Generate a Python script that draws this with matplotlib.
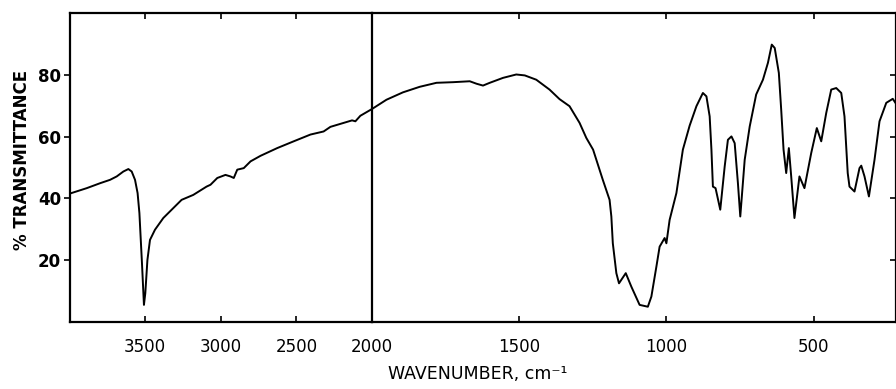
import matplotlib.pyplot as plt

# IR spectrum (scale changes at 2000 cm-1)
wavenumber = [4000, 3886, 3798, 3732, 3688, 3644, 3611, 3589, 3567, 3550,
              3538, 3530, 3521, 3512, 3508, 3499, 3485, 3468, 3435, 3380,
              3314, 3259, 3182, 3094, 3068, 3023, 2969, 2936, 2914, 2891,
              2848, 2803, 2737, 2627, 2518, 2407, 2320, 2275, 2188, 2132,
              2110, 2077, 2000, 1951, 1895, 1838, 1781, 1725, 1668, 1645,
              1623, 1600, 1555, 1510, 1481, 1442, 1397, 1363, 1329, 1295,
              1272, 1249, 1216, 1193, 1187, 1182, 1170, 1161, 1138, 1119,
              1091, 1063, 1051, 1034, 1023, 1006, 1000, 989, 966, 944,
              921, 898, 876, 864, 853, 847, 842, 833, 817, 802,
              791, 779, 768, 757, 749, 734, 717, 695, 672, 655,
              642, 632, 618, 610, 602, 593, 584, 576, 565, 548,
              531, 508, 489, 474, 457, 440, 423, 406, 395, 384,
              378, 361, 344, 338, 327, 312, 293, 276, 253, 231, 222]
transmittance = [41.5, 43.3, 44.9, 46.0, 47.1, 48.7, 49.5, 48.7, 46.0, 41.7,
                 35.2, 27.6, 18.9, 9.2, 5.4, 9.2, 20.0, 26.5, 29.8, 33.6,
                 36.8, 39.5, 41.1, 43.8, 44.4, 46.6, 47.6, 47.1, 46.6, 49.3,
                 49.8, 52.0, 53.8, 56.3, 58.5, 60.7, 61.7, 63.2, 64.5, 65.3,
                 65.0, 66.8, 69.0, 72.0, 74.4, 76.2, 77.5, 77.7, 78.0, 77.2,
                 76.6, 77.5, 79.1, 80.2, 79.9, 78.5, 75.3, 72.2, 69.9, 64.5,
                 59.6, 55.8, 46.0, 39.5, 34.1, 25.4, 15.7, 12.4, 15.7, 11.3,
                 5.4, 4.8, 8.1, 17.8, 24.3, 27.1, 25.4, 33.0, 41.7, 55.8,
                 63.6, 69.9, 74.2, 73.1, 66.6, 55.8, 43.8, 43.3, 36.3, 50.3,
                 59.0, 60.1, 57.9, 44.9, 34.1, 52.5, 63.3, 73.7, 78.5, 84.0,
                 89.9, 88.8, 80.7, 68.8, 55.8, 48.2, 56.3, 47.1, 33.6, 47.1,
                 43.3, 54.7, 62.8, 58.5, 67.7, 75.3, 75.8, 74.2, 66.6, 48.2,
                 43.8, 42.2, 49.8, 50.6, 47.1, 40.6, 52.5, 65.0, 71.0, 72.3, 71.0]

left_ticks = [3500, 3000, 2500, 2000]
right_ticks = [1500, 1000, 500]
y_ticks = [20, 40, 60, 80]

fig = plt.figure(figsize=(8.96, 3.89), dpi=100)

# two panels side by side, the right one at double scale
ax1 = fig.add_axes([0.0776, 0.1735, 0.3376, 0.7918])
ax2 = fig.add_axes([0.4152, 0.1735, 0.5848, 0.7918])
ax2.patch.set_visible(False)
ax1.set_zorder(3)
ax1.patch.set_visible(False)

for ax in (ax1, ax2):
    ax.plot(wavenumber, transmittance, color='black', lw=1.4)
    ax.set_ylim(0, 100)
    for s in ax.spines.values():
        s.set_linewidth(1.6)
    ax.tick_params(axis='x', direction='in', top=True, bottom=True,
                   length=4, width=1.2, labelsize=12, pad=12)

ax1.set_xlim(4000, 2000)
ax1.set_xticks(left_ticks)
ax1.set_yticks(y_ticks)
ax1.tick_params(axis='y', direction='out', left=True, right=False,
                length=4.5, width=1.2, pad=1.5)
for lab in ax1.get_yticklabels():
    lab.set_fontsize(12)
    lab.set_fontweight('bold')

ax2.set_xlim(2000, 220)
ax2.set_xticks(right_ticks)
ax2.set_yticks(y_ticks)
ax2.spines['left'].set_visible(False)
ax2.tick_params(axis='y', direction='in', left=False, right=True,
                labelleft=False, labelright=False, length=4, width=1.2)

fig.text(478 / 896, 1 - 374 / 389, 'WAVENUMBER, cm⁻¹', ha='center', va='center',
         fontsize=12.5)
fig.text(21.7 / 896, 1 - 160 / 389, '% TRANSMITTANCE', ha='center', va='center',
         rotation=90, fontsize=12, fontweight='bold')

fig.savefig('out.png', dpi=100)
